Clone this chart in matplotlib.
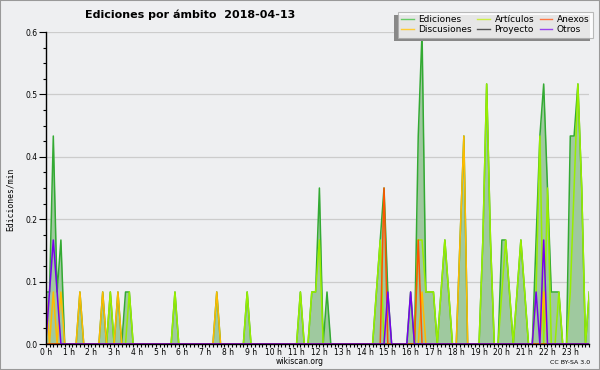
import numpy as np
import matplotlib
matplotlib.use("Agg")
import matplotlib.pyplot as plt
from matplotlib.ticker import FixedLocator, MultipleLocator, FuncFormatter
from matplotlib.patches import Rectangle

# ---- data: edits/min per 10-minute slot (slot index 0..143) ----
n_slots = 144
hour_labels = [f"{h} h" for h in range(24)]

ediciones_slots = [0, 1, 2, 3, 4, 9, 15, 17, 19, 21, 22, 34, 45, 53,
                   67, 70, 71, 72, 74, 87, 88, 89, 90, 96, 98, 99, 100, 101, 102,
                   104, 105, 106, 109, 110, 115, 116, 117, 120, 121, 122,
                   124, 125, 126, 129, 130, 131, 132, 133, 134, 135,
                   138, 139, 140, 141, 143]
ediciones_vals = [0.1, 0.1, 0.4, 0.1, 0.2, 0.1, 0.1, 0.1, 0.1, 0.1, 0.1, 0.1, 0.1, 0.1,
                  0.1, 0.1, 0.1, 0.3, 0.1, 0.1, 0.2, 0.3, 0.1, 0.1, 0.4, 0.6, 0.1, 0.1, 0.1,
                  0.1, 0.2, 0.1, 0.2, 0.4, 0.2, 0.5, 0.2, 0.2, 0.2, 0.1,
                  0.1, 0.2, 0.1, 0.2, 0.4, 0.5, 0.3, 0.1, 0.1, 0.1,
                  0.4, 0.4, 0.5, 0.3, 0.1]

articulos_slots = [17, 22, 34, 53, 67, 70, 71, 72, 87, 88, 98, 99, 100, 101, 102,
                   104, 105, 106, 115, 116, 117, 120, 121, 122, 124, 125, 126,
                   129, 130, 132, 135, 138, 139, 140, 141, 143]
articulos_vals = [0.1, 0.1, 0.1, 0.1, 0.1, 0.1, 0.1, 0.2, 0.1, 0.2, 0.2, 0.2, 0.1, 0.1, 0.1,
                  0.1, 0.2, 0.1, 0.2, 0.5, 0.2, 0.1, 0.2, 0.1, 0.1, 0.2, 0.1,
                  0.1, 0.4, 0.3, 0.1, 0.1, 0.3, 0.5, 0.3, 0.1]

discusiones_slots = [0, 2, 4, 9, 15, 19, 45, 99, 109, 110, 131]
discusiones_vals = [0.1, 0.1, 0.1, 0.1, 0.1, 0.1, 0.1, 0.1, 0.2, 0.4, 0.1]

anexos_slots = [89, 98]
anexos_vals = [0.3, 0.2]

proyecto_slots = []
proyecto_vals = []

otros_slots = [1, 2, 3, 90, 96, 129, 131]
otros_vals = [0.1, 0.2, 0.1, 0.1, 0.1, 0.1, 0.2]


def series(slots, vals):
    s = np.zeros(n_slots)
    s[slots] = vals
    return s


t = np.arange(n_slots) / 6.0  # hours

bg = "#eeeff1"
W, H = 600, 370
fig = plt.figure(figsize=(6, 3.7), dpi=100, facecolor=bg)
ax = fig.add_axes([45.7 / W, 26 / H, (589.3 - 45.7) / W, 312 / H])
ax.set_facecolor(bg)

ed = series(ediciones_slots, ediciones_vals)
ax.fill_between(t, 0, ed, color="#9fc99f", lw=0, zorder=2)
ax.plot(t, ed, color="#33aa33", lw=1.1, zorder=3)

lines_spec = [
    (articulos_slots, articulos_vals, "#99ee00"),
    (discusiones_slots, discusiones_vals, "#ffbb00"),
    (proyecto_slots, proyecto_vals, "#555555"),
    (anexos_slots, anexos_vals, "#ff5500"),
    (otros_slots, otros_vals, "#7700ee"),
]
for sl, vl, c in lines_spec:
    ax.plot(t, series(sl, vl), color=c, lw=1.1, zorder=4)

ax.set_xlim(0, 143 / 6)
ax.set_ylim(0, 0.6)

ax.xaxis.set_major_locator(FixedLocator(np.arange(24)))
ax.set_xticklabels(hour_labels)
ax.xaxis.set_minor_locator(MultipleLocator(1 / 6))
ax.yaxis.set_major_locator(FixedLocator(np.arange(0, 0.61, 0.12)))
ax.yaxis.set_major_formatter(FuncFormatter(lambda v, p: f"{v:.1f}"))
ax.yaxis.set_minor_locator(MultipleLocator(0.03))

ax.tick_params(axis="x", which="both", direction="out", length=2.5, width=0.8,
               labelsize=5.5, pad=0.6, colors="black")
ax.tick_params(axis="y", which="major", direction="out", length=5, width=0.8,
               labelsize=5.5, pad=1)
ax.tick_params(axis="y", which="minor", direction="out", length=2.5, width=0.8)

ax.grid(axis="y", which="major", color="#cccccc", lw=0.9, zorder=0)
ax.set_axisbelow(True)
for s in ["top", "right"]:
    ax.spines[s].set_visible(False)
for s in ["left", "bottom"]:
    ax.spines[s].set_linewidth(1.0)
    ax.spines[s].set_zorder(6)

fig.text(10 / W, 1 - 199 / H, "Ediciones/min", family="DejaVu Sans Mono",
         fontsize=5.8, rotation=90, ha="center", va="center")

fig.text(85 / W, 1 - 15 / H, "Ediciones por ámbito  2018-04-13", fontsize=8,
         fontweight="bold", ha="left", va="center")
fig.text(300 / W, 1 - 362 / H, "wikiscan.org", fontsize=5.5, ha="center", va="center")
fig.text(590 / W, 1 - 362 / H, "CC BY-SA 3.0", fontsize=4.5, ha="right", va="center")

# legend
leg_names = ["Ediciones", "Discusiones", "Artículos", "Proyecto", "Anexos", "Otros"]
leg_colors = ["#66cc66", "#ffcc33", "#ccee44", "#555555", "#ff7744", "#9944ee"]
handles = [plt.Line2D([], [], color=c, lw=1) for c in leg_colors]
leg = fig.legend(handles, leg_names, ncol=3, loc="upper right",
                 bbox_to_anchor=(593 / W, 1 - 11.5 / H), fontsize=6.5,
                 frameon=True, fancybox=False, shadow=False, handlelength=1.4,
                 handletextpad=0.5, columnspacing=0.6, labelspacing=0.1,
                 borderpad=0.4, borderaxespad=0)
leg.get_frame().set_edgecolor("#aaaaaa")
leg.get_frame().set_facecolor("white")
leg.get_frame().set_linewidth(0.8)
leg.set_zorder(10)

fig.canvas.draw()
bb = leg.get_window_extent()
sx0, sy0 = fig.transFigure.inverted().transform((bb.x0 - 3.5, bb.y0 - 3.5))
sx1, sy1 = fig.transFigure.inverted().transform((bb.x1 - 3.5, bb.y1 - 3.5))
shadow = Rectangle((sx0, sy0), sx1 - sx0, sy1 - sy0, transform=fig.transFigure,
                   facecolor="#888888", edgecolor="none", zorder=9)
fig.patches.append(shadow)

fig.patches.append(Rectangle((0, 0), 1, 1, transform=fig.transFigure, fill=False,
                             edgecolor="#999999", lw=1.5))

fig.savefig("out.png", dpi=100, facecolor=bg)
